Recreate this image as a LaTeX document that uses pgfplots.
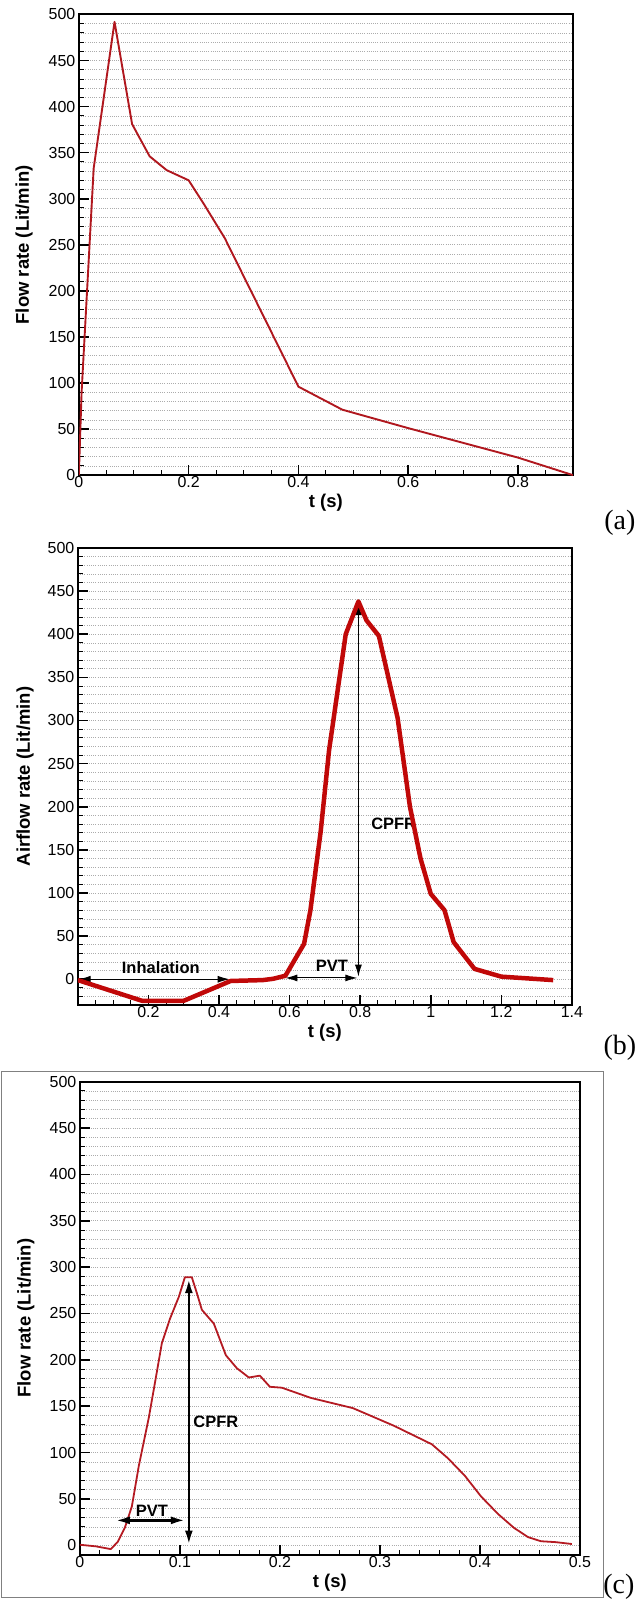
\documentclass[border=0pt]{standalone}
\usepackage{fontspec}
\setmainfont{Liberation Sans}
\newfontfamily\seriffont{Liberation Serif}
\usepackage{pgfplots}
\pgfplotsset{compat=1.18}
\usetikzlibrary{arrows.meta}

\definecolor{curveA}{HTML}{B0171E}
\definecolor{curveB}{HTML}{C00808}
\definecolor{curveC}{HTML}{B41A22}

\pgfplotsset{
  tec/.style={
    scale only axis,
    axis line style={line width=2pt},
    tick align=inside,
    xtick pos=left, ytick pos=left,
    major tick length=10pt, minor tick length=5pt,
    every major tick/.append style={line width=1.6pt, black},
    every minor tick/.append style={line width=0.9pt, black},
    ymajorgrids, yminorgrids,
    major grid style={gray!65, line width=0.6pt, dash pattern=on 0.7pt off 1.5pt},
    minor grid style={gray!65, line width=0.6pt, dash pattern=on 0.7pt off 1.5pt},
    ymax=500,
    ytick={0,50,100,150,200,250,300,350,400,450,500},
    tick label style={font=\fontsize{16}{16}\selectfont},
    xticklabel style={yshift=2pt},
    /pgf/number format/assume math mode=true,
    label style={font=\bfseries\fontsize{18.5}{18.5}\selectfont},
    xlabel style={at={(axis description cs:0.5,0)}, anchor=center, yshift=-28pt},
  },
}
\tikzset{
  thinarr/.style={{Latex[length=12pt,width=7pt]}-{Latex[length=12pt,width=7pt]}, line width=1pt, black},
  thickarr/.style={{Latex[length=14pt,width=8pt]}-{Latex[length=14pt,width=8pt]}, line width=2.4pt, black},
  note/.style={font=\bfseries\fontsize{16.5}{16.5}\selectfont},
  panel/.style={font=\seriffont\fontsize{28}{28}\selectfont},
}

\begin{document}
\begin{tikzpicture}
\path (0,0) rectangle (643pt,-1603pt);

% (a)
\begin{axis}[tec,
  at={(79pt,-476pt)}, anchor=south west,
  width=495pt, height=461.5pt,
  xmin=0, xmax=0.9, ymin=0,
  xtick={0,0.2,0.4,0.6,0.8},
  minor xtick={0.05,0.1,0.15,0.25,0.3,0.35,0.45,0.5,0.55,0.65,0.7,0.75,0.85},
  minor ytick={10,20,30,40,60,70,80,90,110,120,130,140,160,170,180,190,210,220,230,240,260,270,280,290,310,320,330,340,360,370,380,390,410,420,430,440,460,470,480,490},
  xlabel={t (s)},
  ylabel={Flow rate (Lit/min)},
  ylabel style={at={(axis description cs:-0.111,0.5)}, anchor=center},
]
\addplot[curveA, line width=1.9pt, line join=round] coordinates {
 (0,0) (0.005,90) (0.027,333) (0.065,492) (0.097,381) (0.129,346)
 (0.16,331) (0.2,320) (0.228,294) (0.266,257) (0.4,96) (0.48,71)
 (0.6,51) (0.8,19) (0.9,0)
};
\end{axis}
\node[panel] at (621pt,-524pt) {(a)};

% (b)
\begin{axis}[tec,
  at={(78pt,-1007pt)}, anchor=south west,
  width=495pt, height=458pt,
  xmin=0, xmax=1.4, ymin=-30,
  xtick={0.2,0.4,0.6,0.8,1,1.2,1.4},
  minor xtick={0.05,0.1,0.15,0.25,0.3,0.35,0.45,0.5,0.55,0.65,0.7,0.75,0.85,0.9,0.95,1.05,1.1,1.15,1.25,1.3,1.35},
  minor ytick={-20,-10,10,20,30,40,60,70,80,90,110,120,130,140,160,170,180,190,210,220,230,240,260,270,280,290,310,320,330,340,360,370,380,390,410,420,430,440,460,470,480,490},
  xlabel={t (s)},
  ylabel={Airflow rate (Lit/min)},
  ylabel style={at={(axis description cs:-0.107,0.5)}, anchor=center},
]
\draw[thinarr] (axis cs:0.002,0) -- (axis cs:0.43,0);
\node[note] at (axis cs:0.235,14) {Inhalation};
\draw[thinarr] (axis cs:0.588,1.5) -- (axis cs:0.792,1.5);
\node[note] at (axis cs:0.72,15) {PVT};
\draw[thinarr] (axis cs:0.795,436) -- (axis cs:0.795,3);
\node[note] at (axis cs:0.895,180) {CPFR};
\addplot[curveB, line width=4.5pt, line join=round] coordinates {
 (0,-1) (0.182,-25) (0.3,-25) (0.433,-2) (0.524,-1) (0.553,0.5)
 (0.588,4) (0.641,41) (0.659,80) (0.688,171) (0.712,266) (0.724,300)
 (0.759,400) (0.795,438) (0.818,416) (0.853,398) (0.906,303) (0.941,200)
 (0.971,140) (1.0,99) (1.039,80) (1.065,43) (1.124,12) (1.2,3) (1.347,-1)
};
\end{axis}
\node[panel] at (621pt,-1050pt) {(b)};

% (c)
\draw[gray, line width=0.9pt] (1pt,-1073pt) rectangle (605pt,-1600pt);
\begin{axis}[tec,
  at={(80pt,-1557.6pt)}, anchor=south west,
  width=501pt, height=474pt,
  xmin=0, xmax=0.5, ymin=-10,
  xtick={0,0.1,0.2,0.3,0.4,0.5},
  minor xtick={0.02,0.04,0.06,0.08,0.12,0.14,0.16,0.18,0.22,0.24,0.26,0.28,0.32,0.34,0.36,0.38,0.42,0.44,0.46,0.48},
  minor ytick={10,20,30,40,60,70,80,90,110,120,130,140,160,170,180,190,210,220,230,240,260,270,280,290,310,320,330,340,360,370,380,390,410,420,430,440,460,470,480,490},
  xlabel={t (s)},
  ylabel={Flow rate (Lit/min)},
  ylabel style={at={(axis description cs:-0.108,0.5)}, anchor=center},
]
\addplot[curveC, line width=1.8pt, line join=round] coordinates {
 (0,0.7) (0.016,-1) (0.031,-4) (0.038,4) (0.045,19) (0.052,42)
 (0.059,86) (0.069,138) (0.077,187) (0.082,218) (0.090,244) (0.099,268)
 (0.105,289) (0.112,289) (0.117,272) (0.122,254) (0.134,239) (0.146,205)
 (0.157,191) (0.169,181) (0.180,183) (0.19,171) (0.202,170) (0.231,159)
 (0.273,148) (0.314,129) (0.352,109) (0.368,94) (0.385,75) (0.401,53)
 (0.418,34) (0.434,19) (0.448,9) (0.461,4.5) (0.476,3.5) (0.492,1.5)
};
\draw[thickarr] (axis cs:0.036,27) -- (axis cs:0.105,27);
\node[note] at (axis cs:0.072,37) {PVT};
\draw[thickarr] (axis cs:0.109,287) -- (axis cs:0.109,1);
\node[note] at (axis cs:0.136,133) {CPFR};
\end{axis}
\node[panel] at (620pt,-1590pt) {(c)};
\end{tikzpicture}
\end{document}
